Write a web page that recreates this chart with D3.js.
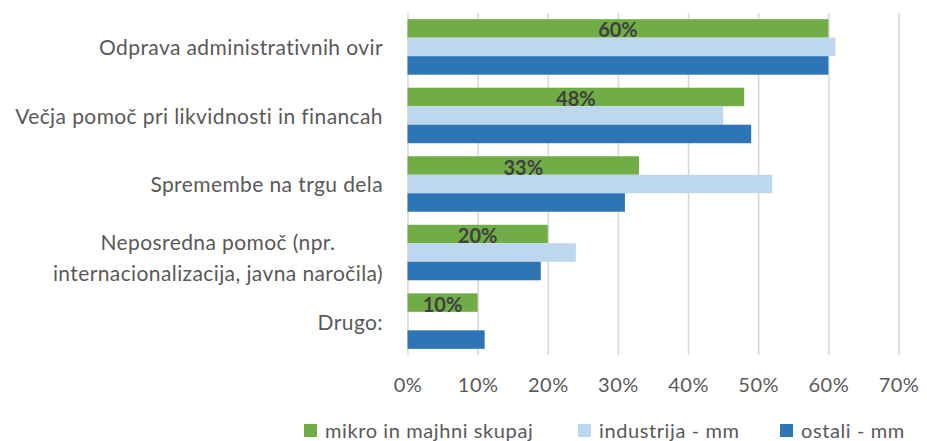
<!DOCTYPE html>
<html>
<head>
<meta charset="utf-8">
<script src="https://cdn.jsdelivr.net/npm/d3@7"></script>
<style>
  body { margin: 0; background: #fff; }
  text { font-family: Lato, "Open Sans", sans-serif; }
</style>
</head>
<body>
<main></main>
<script>
// Set dimensions
const w = 927;
const h = 441;

// Data
const categories = [
  ["Odprava administrativnih ovir"],
  ["Večja pomoč pri likvidnosti in financah"],
  ["Spremembe na trgu dela"],
  ["Neposredna pomoč (npr.", "internacionalizacija, javna naročila)"],
  ["Drugo:"],
];
const seriesNames = ["mikro in majhni skupaj", "industrija - mm", "ostali - mm"];
const mikro = [0.6, 0.48, 0.33, 0.2, 0.1];
const industrija = [0.61, 0.45, 0.52, 0.24, 0];
const ostali = [0.6, 0.49, 0.31, 0.19, 0.11];
const ticks = [0, 0.1, 0.2, 0.3, 0.4, 0.5, 0.6, 0.7];
const colors = ["#70AD47", "#BDD7EE", "#2E75B6"];

const seriesValues = [mikro, industrija, ostali];
const rows = categories.map((c, i) => ({
  key: i,
  lines: c,
  values: seriesValues.map((s, j) => ({ series: j, value: s[i] })),
}));

// Create svg
const svg = d3
  .select("main")
  .append("svg")
  .attr("width", w)
  .attr("height", h)
  .attr("viewBox", `0 0 ${w} ${h}`);

// Scales
const xScale = d3.scaleLinear().domain([0, 0.7]).range([407.5, 898.5]);
const yScale = d3
  .scaleBand()
  .domain(rows.map((d) => d.key))
  .range([13, 355])
  .paddingInner(0.19)
  .paddingOuter(0.09);
const yInner = d3
  .scaleBand()
  .domain([0, 1, 2])
  .range([0, yScale.bandwidth()]);

// Grid lines
svg
  .append("g")
  .attr("transform", `translate(0, 13)`)
  .call(
    d3.axisBottom(xScale).tickValues(ticks).tickFormat("").tickSize(342)
  )
  .call((g) => g.select(".domain").remove())
  .call((g) =>
    g.selectAll("line").attr("stroke", "#D9D9D9").attr("stroke-width", 1.6)
  );

// X axis labels
svg
  .append("g")
  .attr("transform", `translate(0, 355)`)
  .call(
    d3
      .axisBottom(xScale)
      .tickValues(ticks)
      .tickFormat(d3.format(".0%"))
      .tickSize(0)
      .tickPadding(0)
  )
  .call((g) => g.select(".domain").remove())
  .call((g) =>
    g
      .selectAll("text")
      .attr("dy", null)
      .attr("y", 29)
      .attr("dominant-baseline", "central")
      .attr("fill", "#595959")
      .attr("font-size", 20)
      .attr("letter-spacing", 0.5)
      .attr("font-family", "Lato, sans-serif")
  );

// Bars
const groups = svg
  .selectAll(".group")
  .data(rows)
  .enter()
  .append("g")
  .attr("class", "group")
  .attr("transform", (d) => `translate(0, ${yScale(d.key)})`);

groups
  .selectAll("rect")
  .data((d) => d.values)
  .enter()
  .append("rect")
  .attr("x", xScale(0))
  .attr("y", (d) => yInner(d.series))
  .attr("width", (d) => xScale(d.value) - xScale(0))
  .attr("height", yInner.bandwidth())
  .attr("fill", (d) => colors[d.series]);

// Data labels (first series)
groups
  .append("text")
  .attr("x", (d) => (xScale(0) + xScale(d.values[0].value)) / 2)
  .attr("y", yInner(0) + yInner.bandwidth() / 2 + 1)
  .attr("text-anchor", "middle")
  .attr("dominant-baseline", "central")
  .attr("font-size", 20)
  .attr("font-weight", "bold")
  .attr("fill", "#404040")
  .text((d) => d3.format(".0%")(d.values[0].value));

// Category labels (multi-line labels are centred on each other)
const labelRight = 383;
const labels = groups
  .append("text")
  .attr("font-size", 21)
  .attr("letter-spacing", 0.4)
  .attr("fill", "#595959");

labels.each(function (d) {
  const t = d3.select(this);
  const n = d.lines.length;
  const spans = t
    .selectAll("tspan")
    .data(d.lines)
    .enter()
    .append("tspan")
    .attr("y", (l, i) => yScale.bandwidth() / 2 + (n > 1 ? 4 : 0) + (i - (n - 1) / 2) * 31)
    .attr("dominant-baseline", "central")
    .text((l) => l);
  if (n > 1) {
    const maxW = d3.max(spans.nodes(), (s) => s.getComputedTextLength());
    spans.attr("text-anchor", "middle").attr("x", labelRight - maxW / 2);
  } else {
    spans.attr("text-anchor", "end").attr("x", labelRight);
  }
});

// Legend
const legendX = [304, 578, 780];
const legend = svg
  .selectAll(".legend")
  .data(seriesNames)
  .enter()
  .append("g")
  .attr("class", "legend")
  .attr("transform", (d, i) => `translate(${legendX[i]}, 424)`);

legend
  .append("rect")
  .attr("width", 13)
  .attr("height", 13)
  .attr("fill", (d, i) => colors[i]);

legend
  .append("text")
  .attr("x", 21)
  .attr("y", 6)
  .attr("dominant-baseline", "central")
  .attr("font-size", 20)
  .attr("letter-spacing", 0.6)
  .attr("fill", "#595959")
  .text((d) => d);
</script>
</body>
</html>
